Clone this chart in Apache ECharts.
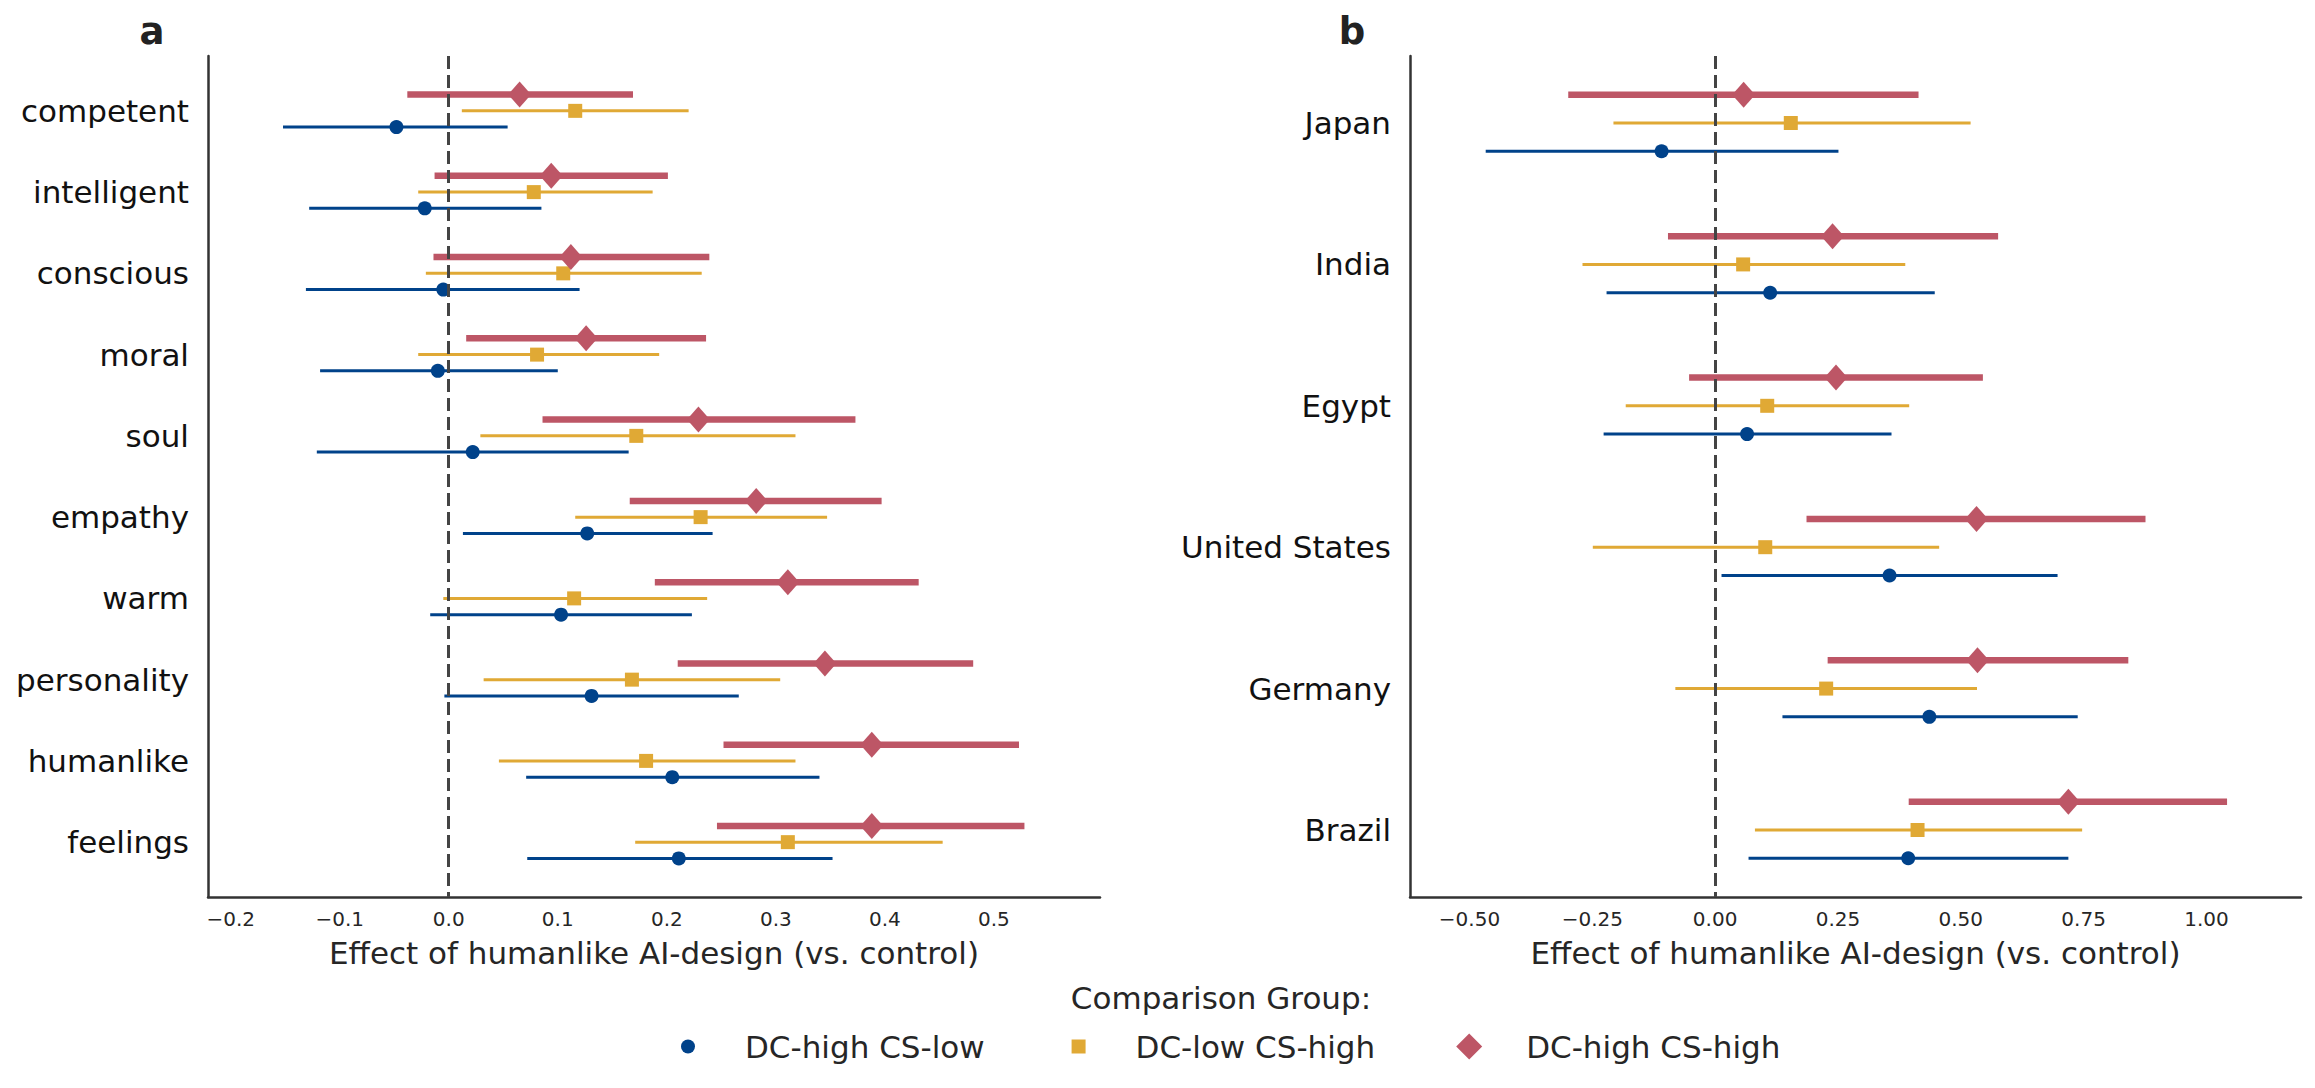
<!DOCTYPE html>
<html><head><meta charset="utf-8">
<script src="https://cdn.jsdelivr.net/npm/echarts@6/dist/echarts.min.js"></script>
<style>html,body{margin:0;padding:0;background:#fff}#c{width:2315px;height:1088px}</style>
</head><body><div id="c"></div><script>
// ---- categories / labels ----
const traits = ['competent','intelligent','conscious','moral','soul','empathy','warm','personality','humanlike','feelings'];
const countries = ['Japan','India','Egypt','United States','Germany','Brazil'];
const groups = ['DC-high CS-low','DC-low CS-high','DC-high CS-high'];
const aTicks = [-0.2,-0.1,0,0.1,0.2,0.3,0.4,0.5];
const bTicks = [-0.5,-0.25,0,0.25,0.5,0.75,1.0];

// ---- panel a: estimates and 95% CI ----
const aHighLowEst  = [-0.048,-0.022,-0.005,-0.010,0.022,0.127,0.103,0.131,0.205,0.211];
const aHighLowLo   = [-0.152,-0.128,-0.131,-0.118,-0.121,0.013,-0.017,-0.004,0.071,0.072];
const aHighLowHi   = [0.054,0.085,0.120,0.100,0.165,0.242,0.223,0.266,0.340,0.352];
const aLowHighEst  = [0.116,0.078,0.105,0.081,0.172,0.231,0.115,0.168,0.181,0.311];
const aLowHighLo   = [0.012,-0.028,-0.021,-0.028,0.029,0.116,-0.005,0.032,0.046,0.171];
const aLowHighHi   = [0.220,0.187,0.232,0.193,0.318,0.347,0.237,0.304,0.318,0.453];
const aHighHighEst = [0.065,0.094,0.112,0.126,0.229,0.282,0.311,0.345,0.388,0.388];
const aHighHighLo  = [-0.038,-0.013,-0.014,0.016,0.086,0.166,0.189,0.210,0.252,0.246];
const aHighHighHi  = [0.169,0.201,0.239,0.236,0.373,0.397,0.431,0.481,0.523,0.528];

// ---- panel b: estimates and 95% CI ----
const bHighLowEst  = [-0.109,0.112,0.065,0.355,0.436,0.393];
const bHighLowLo   = [-0.467,-0.221,-0.227,0.013,0.137,0.068];
const bHighLowHi   = [0.251,0.447,0.359,0.697,0.738,0.719];
const bLowHighEst  = [0.154,0.057,0.106,0.102,0.226,0.412];
const bLowHighLo   = [-0.207,-0.270,-0.182,-0.249,-0.081,0.081];
const bLowHighHi   = [0.520,0.387,0.395,0.456,0.533,0.747];
const bHighHighEst = [0.058,0.239,0.246,0.532,0.534,0.719];
const bHighHighLo  = [-0.299,-0.096,-0.053,0.186,0.229,0.394];
const bHighHighHi  = [0.414,0.576,0.545,0.876,0.841,1.042];

// ---- styling ----
const FONT = '"DejaVu Sans", "Noto Sans", sans-serif';
const COL = {blue:'#00428a', gold:'#e0a935', red:'#bd5666'};
const DODGE = 0.2;
const TEXT = '#262626';

function fmt(v, d){ const s = Math.abs(v).toFixed(d); return (v < -1e-9 ? '\u2212' : '') + s; }

function ciSeries(gi, est, lo, hi, off, color, width, withZero){
  const s = {
    type:'custom', name:'ci'+gi+color, xAxisIndex:gi, yAxisIndex:gi, silent:true, z:2,
    data: est.map((v,i)=>[lo[i], hi[i], i + off]),
    encode:{x:[0,1], y:2},
    renderItem:(params, api)=>{
      const p1 = api.coord([api.value(0), api.value(2)]);
      const p2 = api.coord([api.value(1), api.value(2)]);
      return {type:'line', shape:{x1:p1[0],y1:p1[1],x2:p2[0],y2:p2[1]},
              style:{stroke:color, lineWidth:width, lineCap:'butt'}};
    }
  };
  if (withZero) {
    s.markLine = {silent:true, symbol:['none','none'], label:{show:false},
      lineStyle:{color:'#444', type:[13,6], width:3}, emphasis:{disabled:true},
      data:[{xAxis:0}]};
  }
  return s;
}
function ptSeries(gi, name, est, off, color, symbol, size){
  return {type:'scatter', name, xAxisIndex:gi, yAxisIndex:gi, z:3,
    data: est.map((v,i)=>[v, i + off]),
    symbol, symbolSize:size, itemStyle:{color, opacity:1},
    emphasis:{disabled:true}};
}

function xAxis(gi, min, max, ticks, dec){
  return {gridIndex:gi, type:'value', min, max,
    axisLine:{show:true, onZero:false, lineStyle:{color:'#333', width:2.5}},
    axisTick:{show:false}, splitLine:{show:false},
    axisLabel:{customValues:ticks, formatter:v=>fmt(v,dec), fontSize:20, color:TEXT, margin:12, fontFamily:FONT},
    name:'Effect of humanlike AI-design (vs. control)', nameLocation:'middle', nameGap:40,
    nameTextStyle:{fontSize:31, color:TEXT, fontFamily:FONT}};
}
function yAxis(gi, cats, pad){
  return {gridIndex:gi, type:'value', inverse:true, min:-pad, max:cats.length-1+pad,
    axisLine:{show:true, onZero:false, lineStyle:{color:'#333', width:2.5}},
    axisTick:{show:false}, splitLine:{show:false},
    axisLabel:{customValues:cats.map((_,i)=>i), formatter:v=>cats[Math.round(v)] || '',
      fontSize:31, color:'#111', margin:19, fontFamily:FONT}};
}

const circleIcon = 'path://M0,0M26,26M6,13A7,7 0 1,1 20,13A7,7 0 1,1 6,13Z';
const squareIcon = 'path://M0,0M26,26M6,6L20,6L20,20L6,20Z';
const diamondIcon = 'path://M13,0L26,13L13,26L0,13Z';

const chart = echarts.init(document.getElementById('c'), null, {renderer:'svg', width:2315, height:1088});
chart.setOption({
  animation:false,
  backgroundColor:'#fff',
  textStyle:{fontFamily:FONT},
  grid:[
    {left:208, top:56, width:892, height:841, containLabel:false, outerBoundsMode:'none'},
    {left:1410, top:56, width:891, height:841, containLabel:false, outerBoundsMode:'none'}
  ],
  xAxis:[ xAxis(0, -0.2208, 0.5973, aTicks, 1), xAxis(1, -0.6211, 1.1925, bTicks, 2) ],
  yAxis:[ yAxis(0, traits, 0.675), yAxis(1, countries, 0.474) ],
  legend:{left:670, top:1026, orient:'horizontal', itemWidth:104, itemHeight:26, itemGap:81,
    selectedMode:false,
    data:[{name:groups[0], icon:circleIcon},{name:groups[1], icon:squareIcon},{name:groups[2], icon:diamondIcon}],
    textStyle:{fontSize:31, color:TEXT, fontFamily:FONT}},
  graphic:[
    {type:'text', x:152, y:31, style:{text:'a', font:'bold 37px "DejaVu Sans"', fill:'#222', align:'center', verticalAlign:'middle', textAlign:'center', textVerticalAlign:'middle'}},
    {type:'text', x:1352, y:31, style:{text:'b', font:'bold 37px "DejaVu Sans"', fill:'#222', align:'center', verticalAlign:'middle', textAlign:'center', textVerticalAlign:'middle'}},
    {type:'text', x:1221, y:998, style:{text:'Comparison Group:', font:'31px "DejaVu Sans"', fill:TEXT, align:'center', verticalAlign:'middle', textAlign:'center', textVerticalAlign:'middle'}}
  ],
  series:[
    ciSeries(0, aHighLowEst, aHighLowLo, aHighLowHi, DODGE, COL.blue, 3, true),
    ciSeries(0, aLowHighEst, aLowHighLo, aLowHighHi, 0, COL.gold, 3, false),
    ciSeries(0, aHighHighEst, aHighHighLo, aHighHighHi, -DODGE, COL.red, 6.5, false),
    ptSeries(0, groups[0], aHighLowEst, DODGE, COL.blue, 'circle', 14),
    ptSeries(0, groups[1], aLowHighEst, 0, COL.gold, 'rect', 14),
    ptSeries(0, groups[2], aHighHighEst, -DODGE, COL.red, 'diamond', [23,26]),
    ciSeries(1, bHighLowEst, bHighLowLo, bHighLowHi, DODGE, COL.blue, 3, true),
    ciSeries(1, bLowHighEst, bLowHighLo, bLowHighHi, 0, COL.gold, 3, false),
    ciSeries(1, bHighHighEst, bHighHighLo, bHighHighHi, -DODGE, COL.red, 6.5, false),
    ptSeries(1, groups[0], bHighLowEst, DODGE, COL.blue, 'circle', 14),
    ptSeries(1, groups[1], bLowHighEst, 0, COL.gold, 'rect', 14),
    ptSeries(1, groups[2], bHighHighEst, -DODGE, COL.red, 'diamond', [23,26])
  ]
});
</script></body></html>
